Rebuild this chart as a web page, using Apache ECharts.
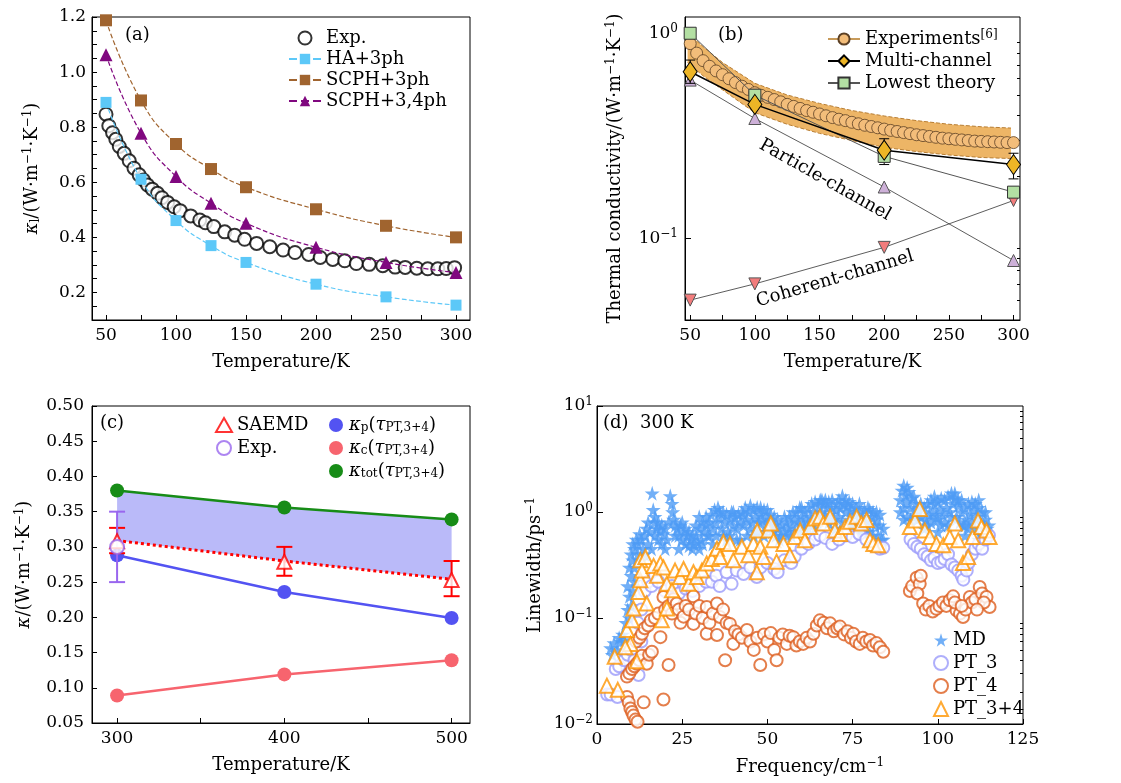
<!DOCTYPE html>
<html>
<head>
<meta charset="utf-8">
<script src="https://cdn.jsdelivr.net/npm/echarts@6/dist/echarts.min.js"></script>
<style>html,body{margin:0;padding:0;background:#fff}#main{width:1121px;height:783px}</style>
</head>
<body>
<div id="main"></div>
<script>
var FONT = 'DejaVu Serif';

// ---- (a) ----
var expT_a = [50,52,54.7,57,59.5,63,66.6,70,73.7,76.8,79.7,83,86.8,90,94,98.7,103,110.5,117,121,127,134.8,141.9,149,157.6,167,176.5,185,194.8,203,212,220.5,228.8,238,247.7,256.5,263.7,272,279.8,287,293,299];
var expK_a = [0.847,0.805,0.78,0.756,0.73,0.705,0.678,0.651,0.627,0.608,0.59,0.575,0.56,0.544,0.527,0.511,0.497,0.478,0.463,0.453,0.439,0.42,0.408,0.393,0.378,0.366,0.354,0.345,0.338,0.327,0.32,0.315,0.305,0.302,0.297,0.292,0.291,0.288,0.286,0.286,0.287,0.29];
var calcT_a = [50,75,100,125,150,200,250,300];
var ha3ph = [0.89,0.611,0.461,0.37,0.309,0.23,0.184,0.154];
var scph3ph = [1.188,0.897,0.739,0.648,0.582,0.502,0.442,0.40];
var scph34ph = [1.063,0.778,0.621,0.524,0.451,0.364,0.309,0.272];

// ---- (b) ----
var expT_b = [50,55,60,65,70,75,80,85,90,95,100,105,110,115,120,125,130,135,140,145,150,155,160,165,170,175,180,185,190,195,200,205,210,215,220,225,230,235,240,245,250,255,260,265,270,275,280,285,290,295,300];
var expK_b = [0.89,0.80,0.735,0.69,0.655,0.628,0.60,0.575,0.552,0.532,0.513,0.498,0.487,0.475,0.463,0.45,0.44,0.43,0.42,0.412,0.404,0.396,0.388,0.381,0.375,0.368,0.362,0.356,0.351,0.346,0.341,0.336,0.332,0.328,0.324,0.32,0.317,0.314,0.311,0.308,0.306,0.304,0.302,0.30,0.298,0.297,0.296,0.295,0.294,0.293,0.293];
var bandT_b = [48,60,75,100,125,150,175,200,225,250,275,298];
var bandHi_b = [1.0,0.86,0.72,0.57,0.5,0.455,0.42,0.395,0.375,0.36,0.35,0.345];
var bandLo_b = [0.72,0.62,0.53,0.41,0.36,0.325,0.30,0.278,0.265,0.255,0.248,0.245];
var calcT_b = [50,100,200,300];
var multiCh = [0.649,0.45,0.269,0.229];
var lowest = [1.0,0.499,0.251,0.168];
var particle = [0.591,0.384,0.178,0.078];
var coherent = [0.050,0.060,0.0904,0.153];
var errMulti = [[50,0.57,0.74],[200,0.229,0.306],[300,0.195,0.26]];
var errLowest = [[100,0.47,0.53]];

// ---- (c) ----
var tempC = [300,400,500];
var kTot = [0.38,0.356,0.339];
var kP = [0.288,0.236,0.199];
var kC = [0.089,0.119,0.139];
var saemd = [0.308,0.279,0.253];
var saemdLo = [0.291,0.259,0.23];
var saemdHi = [0.327,0.30,0.28];
var dotted = [0.309,0.28,0.254];
var expC = [0.30];
var expCLo = [0.25];
var expCHi = [0.35];

// ---- (d) ----
var md = [[4,0.052],[4.5,0.045],[5,0.058],[6,0.05],[6.5,0.065],[7,0.06],[7.5,0.07],[8,0.062],[8.5,0.09],[9,0.12],[9,0.2],[9.5,0.1],[9.5,0.16],[9.5,0.3],[10,0.13],[10,0.25],[10,0.4],[10.5,0.18],[10.5,0.35],[10.5,0.5],[11,0.22],[11,0.45],[11,0.3],[11.5,0.55],[12,0.5],[12,0.4],[12.5,0.62],[13,0.55],
[13.5,0.45],[14,0.6],[14.5,0.7],[15,0.5],[15.5,0.65],[16.2,1.5],[16.5,1.05],[16.8,0.8],[17,0.6],[17.5,0.7],[18,0.55],[18.5,0.68],[19,0.5],[19.5,0.62],[20,0.7],[20.5,0.55],[21.5,1.42],[22,1.2],[22.2,1.0],[22.5,0.85],[23,0.75],[23,0.6],[23.5,0.7],[24,0.6],[24.5,0.75],[25,0.55],[25.5,0.65],[26,0.5],[26.5,0.6],[27,0.48],[27.5,0.55],[28,0.45],
[13,0.35],[14,0.4],[15,0.8],[16,0.45],[17,0.9],[18,0.8],[19,0.75],[20,0.45],[21,0.8],[24,0.45],[25,0.8],[26,0.7],[27,0.65],[28,0.6],
[28.5,0.5],[29,0.6],[29.5,0.52],[30,0.7],[30,0.45],[30.5,0.55],[31,0.8],[31.5,0.65],[32,0.9],[32.5,0.6],[33,0.8],[33.5,0.95],[34,0.7],[34,0.5],[34.5,1.05],[35,0.8],[35.5,1.1],[36,0.9],[36.5,0.7],[37,1.0],[37.5,0.8],[38,0.95],[38,0.55],[38.5,0.65],[39,0.85],[39.5,1.0],[40,0.75],[40.5,0.9],[41,0.7],[41.5,0.95],[42,0.8],[42,0.55],[42.5,1.0],[43,0.75],[43.5,1.1],[44,0.85],[44.5,1.0],[45,1.15],[45.5,0.8],[46,1.05],[46,0.6],[46.5,0.9],[47,1.1],[47.5,0.8],[48,0.95],[48.5,0.85],[49,1.05],[49.5,0.75],[50,0.9],
[29,0.75],[30,0.9],[31,0.5],[32,0.75],[33,0.6],[35,0.6],[36,1.0],[37,0.6],[39,0.6],[40,1.0],[41,0.55],[43,0.95],[44,0.6],[45,0.7],[47,0.65],[48,1.1],[49,0.6],[50,1.05],
[50.5,0.7],[51,0.8],[51.5,0.65],[52,0.75],[52.5,0.6],[53,0.7],[53.5,0.55],[54,0.75],[55,0.65],[55.5,0.8],[56,0.7],[56.5,0.9],[57,0.75],[57.5,1.0],[58,0.85],
[51,0.95],[52,0.9],[53,0.85],[54,0.6],[55,0.9],[56,0.6],[57,0.6],[58,0.65],
[58.5,1.0],[59,0.8],[59.5,1.1],[60,0.9],[60.5,0.75],[61,1.0],[61.5,0.85],[62,1.1],[62,0.7],[62.5,0.9],[63,1.2],[63.5,1.0],[64,1.25],[64.5,0.85],[65,1.15],[65.5,1.3],[66,1.0],[66.5,1.2],[67,0.9],[67.5,1.1],[68,1.25],[68.5,0.95],[69,1.1],[69.5,0.85],[70,1.05],[70,0.7],[70.5,1.2],[71,0.9],[71.5,1.1],[72,1.42],[72.5,1.2],[73,1.0],[73.5,1.15],[74,0.85],[74.5,1.05],[75,1.2],[75.5,0.95],[76,1.1],[76.5,0.8],[77,1.0],[77.5,0.7],[78,0.9],[78,0.65],[78.5,1.05],[79,0.8],[79.5,1.1],[80,0.65],[80.5,0.9],[81,1.0],[81.5,0.75],[82,0.85],[82.5,0.6],[83,0.75],[83.5,0.55],[84,0.7],
[59,0.65],[60,1.1],[61,0.7],[63,0.8],[64,0.7],[65,0.9],[66,1.3],[67,1.3],[68,0.8],[69,1.3],[71,1.3],[72,0.8],[73,1.3],[74,1.25],[75,0.75],[76,0.7],[77,1.2],[79,0.65],[80,1.05],[81,0.6],[82,1.0],[83,0.95],[84,0.55],
[89,1.3],[89.5,1.6],[90,1.78],[90,1.1],[90.5,1.45],[91,1.25],[91,0.9],[91.5,1.55],[92,1.1],[92.5,1.35],[93,0.95],[93.5,1.2],[94,1.05],[95,0.9],[96,1.1],[96.5,0.85],[97,1.2],[97.5,0.95],[98,1.3],[98.5,1.0],[99,1.2],[99.5,0.9],[100,1.25],[100,0.65],[100.5,1.05],[101,1.35],[101.5,0.95],[102,1.3],[102.5,1.1],[103,1.4],[103.5,1.0],[104,1.5],[104.5,1.2],[105,1.35],[105.5,0.9],[106,1.15],[106.5,0.8],[107,1.0],[107.5,0.75],[108,1.1],[108,0.6],[108.5,0.85],[109,1.2],[109.5,0.95],[110,1.25],[110.5,1.05],[111,1.2],[111.5,0.9],[112,1.1],[112,0.55],[112.5,0.8],[113,1.0],[113.5,0.75],[114,0.85],[114.5,0.7],
[89,1.0],[90,0.85],[91,1.7],[92,0.85],[93,1.4],[94,0.85],[95,1.2],[96,0.7],[97,0.75],[98,0.8],[99,1.4],[100,0.85],[101,0.75],[102,0.8],[103,0.75],[104,0.9],[105,1.5],[106,1.3],[107,1.3],[108,0.75],[109,0.7],[110,0.8],[111,0.7],[112,1.3],[113,0.6],[114,1.0],[115,0.75]];
var pt3 = [[3,0.019],[4,0.019],[6,0.018],[5.5,0.033],[6.5,0.035],[8,0.04],[9,0.045],[10,0.05],[11,0.04],[12.2,0.029],[13,0.06],[12,0.09],[13,0.12],[14,0.18],[15,0.22],[16,0.2],[17,0.25],[18,0.22],[20,0.18],[22,0.2],[24,0.17],[26,0.19],[28,0.18],[30,0.2],[32,0.22],[33.7,0.22],[35,0.25],[36,0.2],[38,0.27],[39.5,0.21],[41,0.28],[43,0.26],[45,0.3],[46.9,0.244],[48,0.3],[50,0.33],[52,0.29],[53,0.27],[55,0.35],[57,0.33],[58,0.38],[60,0.45],[62,0.5],[64,0.55],[65.5,0.6],[67,0.57],[69,0.5],[71,0.55],[73,0.6],[75,0.58],[77,0.62],[79,0.55],[81,0.48],[83,0.45],[84,0.46],[92,0.55],[93,0.5],[94,0.47],[95,0.45],[96,0.4],[97,0.38],[98,0.35],[99,0.37],[100,0.33],[101,0.34],[102,0.36],[103,0.4],[104,0.32],[105,0.3],[106,0.28],[107,0.25],[107.5,0.23],[108.5,0.28],[109,0.33],[110,0.4],[111,0.45],[112,0.5],[113,0.45],[114,0.55],[115,0.6]];
var pt4 = [[5,0.0098],[6,0.0095],[8.8,0.018],[9.3,0.016],[9.8,0.014],[10.3,0.013],[10.7,0.012],[11.3,0.011],[11.9,0.0105],[13.7,0.016],[19.5,0.017],
[8.8,0.028],[9.5,0.03],[10.3,0.033],[11,0.035],[11.7,0.037],[12.5,0.04],[13.2,0.044],[14.6,0.037],[15.3,0.045],[16.1,0.048],[21,0.036],
[11.5,0.06],[12.5,0.065],[13.2,0.071],[14,0.08],[15,0.085],[15.8,0.095],[17,0.1],[18.6,0.066],[18,0.11],[19.5,0.158],[20,0.12],[21,0.13],[22,0.11],[22.5,0.15],[23.4,0.137],[24,0.12],[24.5,0.09],[25.4,0.103],[26,0.13],[27,0.12],[28.3,0.16],[28.3,0.088],[29,0.11],[30,0.13],[31,0.1],[32.2,0.127],[32.2,0.071],[33,0.09],[34,0.11],[35.2,0.137],[35.2,0.069],[36.1,0.102],[37,0.12],[37.6,0.04],[38,0.09],[39,0.088],[40,0.057],[40.5,0.075],[41.5,0.07],[42.5,0.065],[44,0.077],[45,0.06],[46,0.05],[47,0.065],[47.9,0.036],[49,0.07],[50,0.06],[51,0.072],[52,0.05],[52.7,0.04],[53.5,0.065],[54.5,0.07],[55.7,0.057],[56.5,0.068],[57.6,0.066],[58.5,0.055],[59.5,0.06],[60.5,0.057],[61.5,0.065],[62.5,0.06],[63.5,0.071],[64.5,0.085],[65.4,0.095],[66.5,0.09],[67.5,0.08],[68.4,0.089],[69.5,0.075],[70.5,0.08],[71.3,0.083],[72.5,0.07],[73.5,0.075],[74.5,0.065],[75.2,0.071],[76,0.06],[77.1,0.057],[78,0.065],[79,0.06],[80.1,0.062],[81,0.055],[82,0.058],[83,0.053],[84,0.048],
[91.8,0.18],[92.5,0.2],[93.8,0.24],[94.7,0.21],[95,0.25],[94,0.17],[95.7,0.137],[96.5,0.12],[97.5,0.13],[98.5,0.115],[99.6,0.122],[100.5,0.13],[101.5,0.14],[102.5,0.13],[103.5,0.147],[104.5,0.16],[105.5,0.118],[106.5,0.11],[107.4,0.102],[108.2,0.12],[109.4,0.158],[110,0.14],[111,0.15],[112.3,0.196],[113,0.17],[114.3,0.158],[115.2,0.127],[113.5,0.14],[111.5,0.12],[105,0.14],[107,0.13]];
var pt34 = [[2.9,0.023],[6.1,0.021],[5.2,0.043],[8.8,0.077],[9.8,0.057],[8.3,0.053],[10.3,0.095],[10.7,0.123],[11.7,0.039],[12.2,0.176],[12.7,0.227],[12.7,0.35],[13.2,0.28],[14.2,0.376],[14.6,0.137],[16.6,0.31],[17.6,0.25],[18.6,0.326],[19,0.095],[19.5,0.3],[20.5,0.21],[20.5,0.123],[22,0.183],[22.9,0.28],[24.4,0.244],[25.4,0.29],[26.9,0.21],[28.3,0.27],[29.3,0.244],[30.8,0.28],[32.2,0.326],[33.7,0.36],[35.2,0.45],[36.1,0.376],[37.1,0.52],[39,0.5],[40,0.35],[42.5,0.47],[44.4,0.39],[45.9,0.5],[47,0.67],[47.9,0.47],[46.9,0.27],[48.8,0.376],[50.3,0.67],[51,0.78],[51.8,0.54],[52.7,0.34],[54.7,0.5],[56.6,0.39],[58.1,0.58],[59.6,0.67],[61,0.54],[62.5,0.72],[64,0.87],[65.4,0.9],[66.4,0.78],[68.4,0.9],[69.8,0.67],[71.3,0.62],[72.8,0.72],[74.2,0.81],[76.2,0.9],[77.6,0.78],[79.1,0.84],[80.1,0.54],[81.1,0.5],[82.5,0.485],[91.8,0.72],[93.3,0.83],[94.7,1.07],[96.2,0.67],[97.7,0.58],[99.6,0.5],[101.6,0.485],[103.5,0.58],[105,0.78],[106,0.54],[107.4,0.33],[108.9,0.376],[110.2,0.58],[111.8,0.83],[112.8,0.72],[114.3,0.67],[115.2,0.58]];

var STAR = 'path://M50,0 L61,35 L98,35 L68,57 L79,91 L50,70 L21,91 L32,57 L2,35 L39,35 Z';

function pairs(xs, ys) { return xs.map(function (x, i) { return [x, ys[i]]; }); }
function supLog(v) {
    var k = Math.round(Math.log(v) / Math.LN10);
    return '10{sup|' + (k < 0 ? '\u2212' + (-k) : k) + '}';
}
var richSup = {
    sup: {fontSize: 12, fontFamily: FONT, verticalAlign: 'top', padding: [0, 0, 8, 0]},
    sub: {fontSize: 12, fontFamily: FONT, verticalAlign: 'bottom', padding: [6, 0, 0, 0]},
    i: {fontSize: 18, fontFamily: FONT, fontStyle: 'italic'}
};

function axis(o) {
    var a = {
        type: 'value',
        axisLine: {show: true, onZero: false, lineStyle: {color: '#000', width: 1}},
        axisTick: {show: true, inside: true, length: 5, lineStyle: {color: '#000', width: 1}},
        axisLabel: {color: '#000', fontFamily: FONT, fontSize: 17, margin: 7, rich: richSup},
        splitLine: {show: false},
        nameLocation: 'middle',
        nameTextStyle: {color: '#000', fontFamily: FONT, fontSize: 18, rich: richSup}
    };
    for (var k in o) {
        if (typeof o[k] === 'object' && !Array.isArray(o[k]) && a[k]) {
            for (var j in o[k]) a[k][j] = o[k][j];
        } else a[k] = o[k];
    }
    return a;
}

function errBars(color, width, cap) {
    return function (params, api) {
        var x = api.value(0), lo = api.value(1), hi = api.value(2);
        var p1 = api.coord([x, lo]), p2 = api.coord([x, hi]);
        var st = {stroke: color, lineWidth: width};
        return {type: 'group', children: [
            {type: 'line', shape: {x1: p1[0], y1: p1[1], x2: p2[0], y2: p2[1]}, style: st},
            {type: 'line', shape: {x1: p1[0] - cap, y1: p1[1], x2: p1[0] + cap, y2: p1[1]}, style: st},
            {type: 'line', shape: {x1: p2[0] - cap, y1: p2[1], x2: p2[0] + cap, y2: p2[1]}, style: st}
        ]};
    };
}
function bandPoly(xs, lo, hi, fill) {
    return function (params, api) {
        if (params.dataIndex !== 0) return;
        var pts = [], i;
        for (i = 0; i < xs.length; i++) pts.push(api.coord([xs[i], hi[i]]));
        for (i = xs.length - 1; i >= 0; i--) pts.push(api.coord([xs[i], lo[i]]));
        return {type: 'polygon', shape: {points: pts}, style: {fill: fill}};
    };
}

var labelMap = {
    'Exp.(c)': 'Exp.',
    'Experiments': 'Experiments{sup|[6]}',
    'kp': '{i|\u03ba}{sub|p}({i|\u03c4}{sub|PT,3+4})',
    'kc': '{i|\u03ba}{sub|c}({i|\u03c4}{sub|PT,3+4})',
    'ktot': '{i|\u03ba}{sub|tot}({i|\u03c4}{sub|PT,3+4})'
};
function legendFmt(n) { return labelMap[n] || n; }
var legendText = {color: '#000', fontFamily: FONT, fontSize: 18, rich: richSup};

var chart = echarts.init(document.getElementById('main'));
var option = {
    backgroundColor: '#fff',
    animation: false,
    grid: [
        {left: 92, top: 17, width: 378, height: 303, show: true, borderColor: '#000', borderWidth: 1},
        {left: 685, top: 17, width: 335, height: 303, show: true, borderColor: '#000', borderWidth: 1},
        {left: 92, top: 406, width: 378, height: 317, show: true, borderColor: '#000', borderWidth: 1},
        {left: 597, top: 406, width: 426, height: 318, show: true, borderColor: '#000', borderWidth: 1}
    ],
    xAxis: [
        axis({gridIndex: 0, min: 40, max: 310, name: 'Temperature/K', nameGap: 33,
            axisTick: {customValues: [50, 75, 100, 125, 150, 175, 200, 225, 250, 275, 300]},
            axisLabel: {customValues: [50, 100, 150, 200, 250, 300]}}),
        axis({gridIndex: 1, min: 46, max: 305, name: 'Temperature/K', nameGap: 33,
            axisTick: {customValues: [50, 75, 100, 125, 150, 175, 200, 225, 250, 275, 300]},
            axisLabel: {customValues: [50, 100, 150, 200, 250, 300]}}),
        axis({gridIndex: 2, min: 285, max: 511, name: 'Temperature/K', nameGap: 33,
            axisTick: {customValues: [300, 350, 400, 450, 500]},
            axisLabel: {customValues: [300, 400, 500]}}),
        axis({gridIndex: 3, min: 0, max: 125, interval: 25, name: 'Frequency/cm{sup|\u22121}', nameGap: 33})
    ],
    yAxis: [
        axis({gridIndex: 0, min: 0.1, max: 1.2, interval: 0.05, name: '{i|\u03ba}{sub|l}/(W\u00b7m{sup|\u22121}\u00b7K{sup|\u22121})', nameGap: 50,
            axisLabel: {margin: 6, formatter: function (v) {
                var n = Math.round(v * 100);
                return n % 20 === 0 ? (n / 100).toFixed(1) : '';
            }}}),
        axis({gridIndex: 1, type: 'log', logBase: 10, min: 0.04, max: 1.2, name: 'Thermal conductivity/(W\u00b7m{sup|\u22121}\u00b7K{sup|\u22121})', nameGap: 60,
            axisTick: {customValues: [0.1, 1], length: 6},
            axisLabel: {customValues: [0.1, 1], formatter: supLog}}),
        axis({gridIndex: 2, min: 0.05, max: 0.5, interval: 0.05, name: '{i|\u03ba}/(W\u00b7m{sup|\u22121}\u00b7K{sup|\u22121})', nameGap: 58,
            axisLabel: {margin: 8, formatter: function (v) { return v.toFixed(2); }}}),
        axis({gridIndex: 3, type: 'log', logBase: 10, min: 0.01, max: 10, name: 'Linewidth/ps{sup|\u22121}', nameGap: 52,
            axisTick: {customValues: [0.01, 0.1, 1, 10], length: 6},
            axisLabel: {margin: 4, customValues: [0.01, 0.1, 1, 10], formatter: supLog}}),
        axis({gridIndex: 1, type: 'log', logBase: 10, min: 0.04, max: 1.2, axisLine: {show: false},
            axisTick: {length: 3, customValues: [0.04, 0.05, 0.06, 0.07, 0.08, 0.09, 0.2, 0.3, 0.4, 0.5, 0.6, 0.7, 0.8, 0.9]},
            axisLabel: {show: false}}),
        axis({gridIndex: 3, type: 'log', logBase: 10, min: 0.01, max: 10, axisLine: {show: false},
            axisTick: {length: 3, customValues: [0.02, 0.03, 0.04, 0.05, 0.06, 0.07, 0.08, 0.09, 0.2, 0.3, 0.4, 0.5, 0.6, 0.7, 0.8, 0.9, 2, 3, 4, 5, 6, 7, 8, 9]},
            axisLabel: {show: false}})
    ],
    legend: [
        {left: 283, top: 24, orient: 'vertical', itemWidth: 32, itemHeight: 13, itemGap: 3, selectedMode: false,
            textStyle: legendText, formatter: legendFmt,
            data: ['Exp.', 'HA+3ph', 'SCPH+3ph', 'SCPH+3,4ph']},
        {left: 822, top: 24, orient: 'vertical', itemWidth: 32, itemHeight: 14, itemGap: 4, selectedMode: false,
            textStyle: legendText, formatter: legendFmt,
            data: ['Experiments', 'Multi-channel', 'Lowest theory']},
        {left: 210, top: 411, orient: 'vertical', itemWidth: 16, itemHeight: 14, itemGap: 5, selectedMode: false,
            textStyle: legendText, formatter: legendFmt,
            data: ['SAEMD', 'Exp.(c)']},
        {left: 324, top: 411, orient: 'vertical', itemWidth: 16, itemHeight: 14, itemGap: 5, selectedMode: false,
            textStyle: legendText, formatter: legendFmt,
            data: [{name: 'kp', icon: 'circle'}, {name: 'kc', icon: 'circle'}, {name: 'ktot', icon: 'circle'}]},
        {left: 928, top: 626, orient: 'vertical', itemWidth: 14, itemHeight: 14, itemGap: 5, selectedMode: false,
            textStyle: legendText,
            data: ['MD', 'PT_3', 'PT_4', 'PT_3+4']}
    ],
    graphic: [
        {type: 'text', x: 125, y: 35, style: {text: '(a)', font: '18px "DejaVu Serif"', fill: '#000', verticalAlign: 'middle'}},
        {type: 'text', x: 718, y: 35, style: {text: '(b)', font: '18px "DejaVu Serif"', fill: '#000', verticalAlign: 'middle'}},
        {type: 'text', x: 100, y: 423, style: {text: '(c)', font: '18px "DejaVu Serif"', fill: '#000', verticalAlign: 'middle'}},
        {type: 'text', x: 603, y: 423, style: {text: '(d)  300 K', font: '18px "DejaVu Serif"', fill: '#000', verticalAlign: 'middle'}},
        {type: 'text', x: 825, y: 180, rotation: -0.513, style: {text: 'Particle-channel', font: '18px "DejaVu Serif"', fill: '#000', align: 'center', verticalAlign: 'middle'}},
        {type: 'text', x: 835, y: 279, rotation: 0.286, style: {text: 'Coherent-channel', font: '18px "DejaVu Serif"', fill: '#000', align: 'center', verticalAlign: 'middle'}}
    ],
    series: [
        // (a)
        {name: 'HA+3ph', type: 'line', xAxisIndex: 0, yAxisIndex: 0, data: pairs(calcT_a, ha3ph), smooth: 0.5,
            symbol: 'rect', symbolSize: 11, itemStyle: {color: '#5CC8F8'}, lineStyle: {color: '#5CC8F8', width: 1.2, type: 'dashed'}},
        {name: 'SCPH+3ph', type: 'line', xAxisIndex: 0, yAxisIndex: 0, data: pairs(calcT_a, scph3ph), smooth: 0.5,
            symbol: 'rect', symbolSize: 12, itemStyle: {color: '#A0642F'}, lineStyle: {color: '#A0642F', width: 1.2, type: 'dashed'}},
        {name: 'SCPH+3,4ph', type: 'line', xAxisIndex: 0, yAxisIndex: 0, data: pairs(calcT_a, scph34ph), smooth: 0.5,
            symbol: 'triangle', symbolSize: 13, itemStyle: {color: '#80087F'}, lineStyle: {color: '#80087F', width: 1.2, type: 'dashed'}},
        {name: 'Exp.', type: 'scatter', xAxisIndex: 0, yAxisIndex: 0, data: pairs(expT_a, expK_a),
            symbol: 'emptyCircle', symbolSize: 13, itemStyle: {color: '#000', borderWidth: 1}},
        // (b)
        {name: 'bandB', type: 'custom', xAxisIndex: 1, yAxisIndex: 1, z: 1,
            data: bandT_b.map(function (t, i) { return [t, bandLo_b[i], bandHi_b[i]]; }),
            renderItem: bandPoly(bandT_b, bandLo_b, bandHi_b, '#EDB566')},
        {name: 'bandBHi', type: 'line', xAxisIndex: 1, yAxisIndex: 1, data: pairs(bandT_b, bandHi_b), showSymbol: false, z: 2,
            lineStyle: {color: '#B87E33', width: 1, type: 'dashed'}},
        {name: 'bandBLo', type: 'line', xAxisIndex: 1, yAxisIndex: 1, data: pairs(bandT_b, bandLo_b), showSymbol: false, z: 2,
            lineStyle: {color: '#B87E33', width: 1, type: 'dashed'}},
        {name: 'particle', type: 'line', xAxisIndex: 1, yAxisIndex: 1, data: pairs(calcT_b, particle), z: 3,
            symbol: 'triangle', symbolSize: 12, itemStyle: {color: '#CDB0D8', borderColor: '#555', borderWidth: 1}, lineStyle: {color: '#333', width: 0.8}},
        {name: 'coherent', type: 'line', xAxisIndex: 1, yAxisIndex: 1, data: pairs(calcT_b, coherent), z: 3,
            symbol: 'triangle', symbolRotate: 180, symbolSize: 12, itemStyle: {color: '#F27C7C', borderColor: '#555', borderWidth: 1}, lineStyle: {color: '#333', width: 0.8}},
        {name: 'Experiments', type: 'line', xAxisIndex: 1, yAxisIndex: 1, data: pairs(expT_b, expK_b), z: 4,
            symbol: 'circle', symbolSize: 12, itemStyle: {color: '#F3BD7A', borderColor: '#5C4025', borderWidth: 0.8},
            lineStyle: {color: '#C79A5A', width: 1.5}},
        {name: 'Lowest theory', type: 'line', xAxisIndex: 1, yAxisIndex: 1, data: pairs(calcT_b, lowest), z: 5,
            symbol: 'rect', symbolSize: 12, itemStyle: {color: '#B3DFA3', borderColor: '#333', borderWidth: 1}, lineStyle: {color: '#555', width: 1}},
        {name: 'Multi-channel', type: 'line', xAxisIndex: 1, yAxisIndex: 1, data: pairs(calcT_b, multiCh), z: 6,
            symbol: 'diamond', symbolSize: [14, 20], itemStyle: {color: '#EDB526', borderColor: '#000', borderWidth: 1}, lineStyle: {color: '#000', width: 1.5}},
        {name: 'errB1', type: 'custom', xAxisIndex: 1, yAxisIndex: 1, z: 5, data: errMulti, renderItem: errBars('#000', 1, 5)},
        {name: 'errB2', type: 'custom', xAxisIndex: 1, yAxisIndex: 1, z: 5, data: errLowest, renderItem: errBars('#000', 1, 5)},
        // (c)
        {name: 'bandC', type: 'custom', xAxisIndex: 2, yAxisIndex: 2, z: 1,
            data: tempC.map(function (t, i) { return [t, dotted[i], kTot[i]]; }),
            renderItem: bandPoly(tempC, dotted, kTot, 'rgba(140,140,245,0.6)')},
        {name: 'dotC', type: 'line', xAxisIndex: 2, yAxisIndex: 2, data: pairs(tempC, dotted), showSymbol: false, z: 2,
            lineStyle: {color: '#FF0000', width: 3, type: 'dotted'}},
        {name: 'kp', type: 'line', xAxisIndex: 2, yAxisIndex: 2, data: pairs(tempC, kP), symbol: 'circle', symbolSize: 14,
            itemStyle: {color: '#5353F2'}, lineStyle: {color: '#5353F2', width: 2.5}},
        {name: 'kc', type: 'line', xAxisIndex: 2, yAxisIndex: 2, data: pairs(tempC, kC), symbol: 'circle', symbolSize: 14,
            itemStyle: {color: '#F7646E'}, lineStyle: {color: '#F7646E', width: 2.5}},
        {name: 'ktot', type: 'line', xAxisIndex: 2, yAxisIndex: 2, data: pairs(tempC, kTot), symbol: 'circle', symbolSize: 14,
            itemStyle: {color: '#178C17'}, lineStyle: {color: '#178C17', width: 2.5}},
        {name: 'errC1', type: 'custom', xAxisIndex: 2, yAxisIndex: 2, z: 4,
            data: tempC.map(function (t, i) { return [t, saemdLo[i], saemdHi[i]]; }), renderItem: errBars('#FF0000', 2, 8)},
        {name: 'errC2', type: 'custom', xAxisIndex: 2, yAxisIndex: 2, z: 4,
            data: [[300, expCLo[0], expCHi[0]]], renderItem: errBars('#9966EE', 2, 8)},
        {name: 'SAEMD', type: 'scatter', xAxisIndex: 2, yAxisIndex: 2, data: pairs(tempC, saemd), z: 5,
            symbol: 'emptyTriangle', symbolSize: 14, itemStyle: {color: '#FF0000', borderWidth: 2}},
        {name: 'Exp.(c)', type: 'scatter', xAxisIndex: 2, yAxisIndex: 2, data: [[300, expC[0]]], z: 5,
            symbol: 'emptyCircle', symbolSize: 14, itemStyle: {color: '#9966EE', borderWidth: 2}},
        // (d)
        {name: 'MD', type: 'scatter', xAxisIndex: 3, yAxisIndex: 3, data: md, symbol: STAR, symbolSize: 15,
            itemStyle: {color: '#4D9BF5'}},
        {name: 'PT_3', type: 'scatter', xAxisIndex: 3, yAxisIndex: 3, data: pt3, symbol: 'emptyCircle', symbolSize: 12,
            itemStyle: {color: '#9B9BFA', borderWidth: 1.6}},
        {name: 'PT_4', type: 'scatter', xAxisIndex: 3, yAxisIndex: 3, data: pt4, symbol: 'emptyCircle', symbolSize: 12,
            itemStyle: {color: '#DD5E1E', borderWidth: 1.7}},
        {name: 'PT_3+4', type: 'scatter', xAxisIndex: 3, yAxisIndex: 3, data: pt34, symbol: 'emptyTriangle', symbolSize: 14,
            itemStyle: {color: '#FF9500', borderWidth: 2}}
    ]
};
chart.setOption(option);
</script>
</body>
</html>
